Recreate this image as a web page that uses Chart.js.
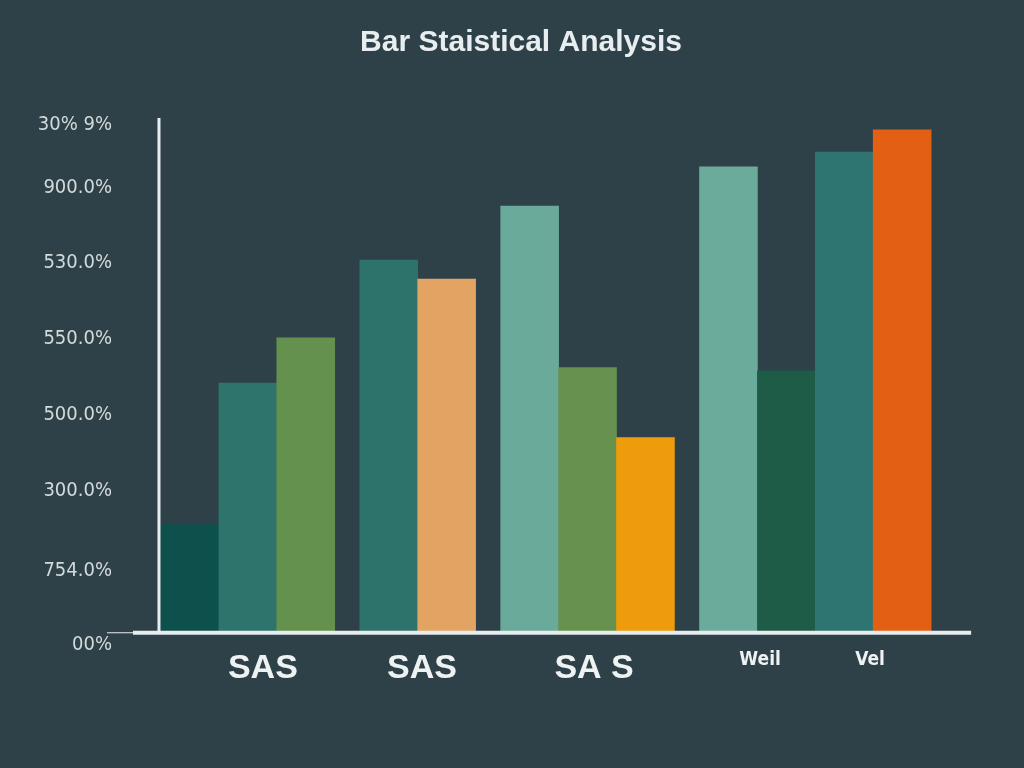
<!DOCTYPE html>
<html>
<head>
<meta charset="utf-8">
<script src="https://cdn.jsdelivr.net/npm/chart.js@4.4.1/dist/chart.umd.min.js"></script>
<style>
  html, body { margin: 0; padding: 0; background: #2f4148; }
  #wrap { width: 1024px; height: 768px; }
</style>
</head>
<body>
<div id="wrap"><canvas id="myChart"></canvas></div>
<script>
// bars, in drawing order, grouped as in the picture
const groupSizes = [3, 2, 3, 4];
const barValues = [21.0, 48.5, 57.3, 72.4, 68.7, 82.9, 51.5, 37.9, 90.5, 50.9, 93.4, 97.7];
const barColors = ['#0d504c', '#2e736c', '#65914f', '#2e726c', '#e2a363', '#69aa9b',
                   '#66914f', '#ee9c0b', '#6aab9c', '#1f5c48', '#2e7571', '#e25f14'];

// axis labels (as printed in the picture)
const xLabels = ['SAS', 'SAS', 'SA S', 'Weil', 'Vel'];
const xLabelAt = [5.28, 13.52, 22.44, 31.04, 36.74];
const yLabels = ['00%', '754.0%', '300.0%', '500.0%', '550.0%', '530.0%', '900.0%', '30% 9%'];
const yLabelAt = [-2.3, 12.0, 27.6, 42.3, 57.1, 71.8, 86.4, 98.6];

// every bar is 3 units wide, groups are a bit over 1 unit apart
const groupGap = 1.3;
const barX = [];
let pos = 0;
groupSizes.forEach((n) => {
  for (let i = 0; i < n; i++) {
    barX.push(pos + 1.5);
    pos += 3;
  }
  pos += groupGap;
});
const barsEnd = pos - groupGap;

const axisLines = {
  id: 'axisLines',
  afterDatasetsDraw(chart) {
    const ctx = chart.ctx;
    const xs = chart.scales.x, ys = chart.scales.y;
    const area = chart.chartArea;
    const y0 = ys.getPixelForValue(0);
    const xl = xs.getPixelForValue(0) - 2;
    ctx.save();
    ctx.strokeStyle = '#e6edef';
    ctx.lineWidth = 3;
    ctx.beginPath();
    ctx.moveTo(xl, ys.getPixelForValue(100));
    ctx.lineTo(xl, y0);
    ctx.stroke();
    ctx.lineWidth = 4;
    ctx.beginPath();
    ctx.moveTo(area.left, y0);
    ctx.lineTo(xs.getPixelForValue(barsEnd) + 40, y0);
    ctx.stroke();
    ctx.lineWidth = 1;
    ctx.beginPath();
    ctx.moveTo(area.left - 26, y0);
    ctx.lineTo(area.left, y0);
    ctx.stroke();
    ctx.restore();
  }
};

new Chart('myChart', {
  type: 'bar',
  data: {
    datasets: [{
      data: barX.map((x, i) => ({ x: x, y: barValues[i] })),
      backgroundColor: barColors,
      borderWidth: 0,
      barPercentage: 1,
      categoryPercentage: 1
    }]
  },
  options: {
    responsive: true,
    maintainAspectRatio: false,
    animation: false,
    layout: { padding: { top: 0, left: 30, right: 12, bottom: 79 } },
    plugins: {
      legend: { display: false },
      tooltip: { enabled: false },
      title: {
        display: true,
        text: 'Bar Staistical Analysis',
        color: '#e8eef0',
        font: { family: 'Liberation Sans', size: 30, weight: 'bold', lineHeight: 1.2 },
        padding: { top: 25, bottom: 57 }
      }
    },
    scales: {
      x: {
        type: 'linear',
        offset: false,
        bounds: 'data',
        min: -1.45,
        max: 44.09,
        grid: { display: false, drawTicks: false },
        border: { display: false },
        afterBuildTicks: (scale) => { scale.ticks = xLabelAt.map(v => ({ value: v })); },
        ticks: {
          autoSkip: false,
          maxRotation: 0,
          padding: 0,
          color: '#eef2f3',
          callback: (v, i) => xLabels[i],
          font: (c) => c.index < 3
            ? { family: 'Liberation Sans', size: 34, weight: 'bold', lineHeight: 1.2 }
            : { family: 'DejaVu Sans Condensed', size: 19, weight: 'bold', lineHeight: 1.2 }
        }
      },
      y: {
        min: -3,
        max: 100,
        bounds: 'data',
        grid: { display: false, drawTicks: false },
        border: { display: false },
        afterBuildTicks: (scale) => { scale.ticks = yLabelAt.map(v => ({ value: v })); },
        afterFit: (scale) => { scale.width = 103; },
        ticks: {
          autoSkip: false,
          padding: 21,
          color: '#d3dada',
          callback: (v, i) => yLabels[i],
          font: { family: 'DejaVu Sans Condensed', size: 20 }
        }
      }
    }
  },
  plugins: [axisLines]
});
</script>
</body>
</html>
